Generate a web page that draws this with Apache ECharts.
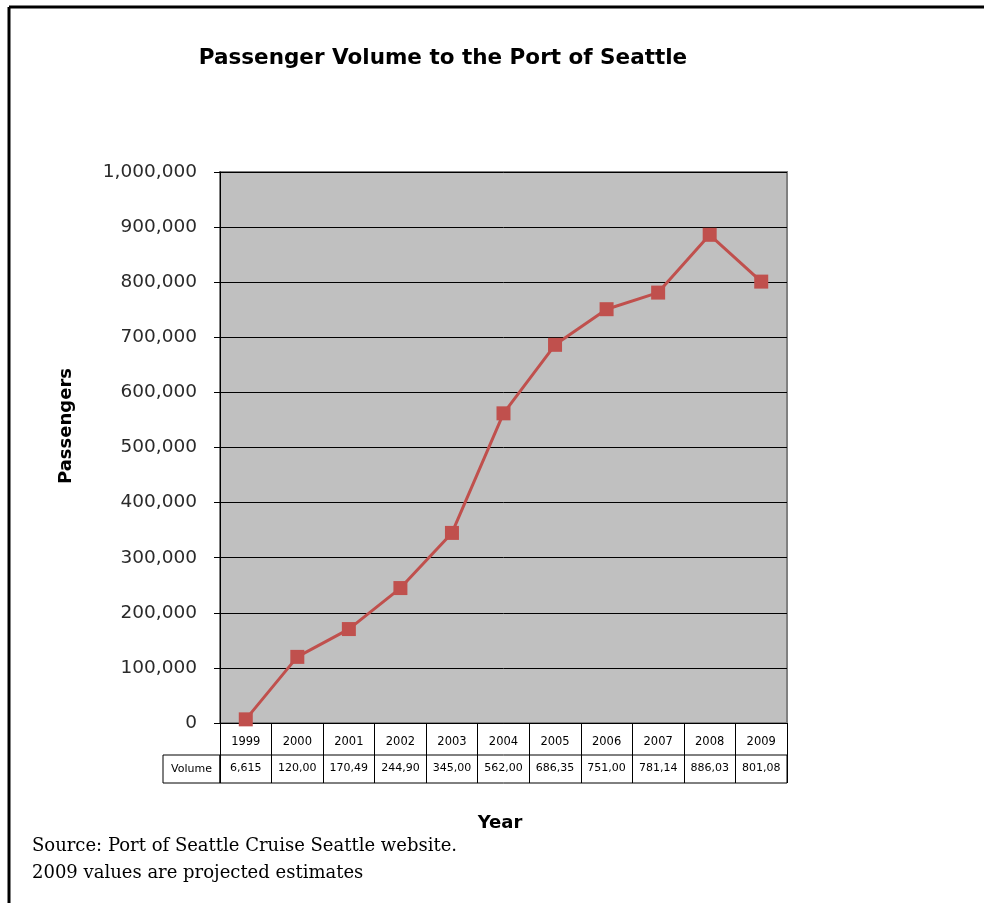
<!DOCTYPE html>
<html>
<head>
<meta charset="utf-8">
<script src="https://cdn.jsdelivr.net/npm/echarts@6/dist/echarts.min.js"></script>
<style>html,body{margin:0;padding:0;background:#fff}#c{width:984px;height:903px}</style>
</head>
<body>
<div id="c"></div>
<script>
var years = ['1999','2000','2001','2002','2003','2004','2005','2006','2007','2008','2009'];
var passengers = [6615, 120000, 170490, 244900, 345000, 562000, 686350, 751000, 781140, 886030, 801080];
var volumeLabels = ['6,615','120,00','170,49','244,90','345,00','562,00','686,35','751,00','781,14','886,03','801,08'];
var yTicks = {min: 0, max: 1000000, interval: 100000};

var chart = echarts.init(document.getElementById('c'), null, {renderer: 'canvas'});
var sans = 'DejaVu Sans';
chart.setOption({
  animation: false,
  backgroundColor: '#fff',
  title: {
    text: 'Passenger Volume to the Port of Seattle',
    left: 438, top: 42, textAlign: 'center',
    textStyle: {fontFamily: sans, fontWeight: 'bold', fontSize: 21.5, color: '#000'}
  },
  grid: [
    {left: 220, right: 197, top: 172, bottom: 180, show: true, backgroundColor: '#C0C0C0', borderColor: '#808080', borderWidth: 2},
    {left: 220, right: 197, top: 755, height: 28, show: true, backgroundColor: 'transparent', borderColor: '#000', borderWidth: 1}
  ],
  xAxis: [
    {
      type: 'category', gridIndex: 0, data: years, boundaryGap: true,
      axisLine: {lineStyle: {color: '#000', width: 1}},
      axisTick: {show: true, interval: 0, length: 32, lineStyle: {color: '#000'}},
      axisLabel: {interval: 0, margin: 13, fontFamily: sans, fontSize: 11.5, color: '#000'},
      splitLine: {show: false}
    },
    {
      type: 'category', gridIndex: 1, data: volumeLabels, boundaryGap: true,
      axisLine: {show: false}, axisTick: {show: false, interval: 0},
      axisLabel: {interval: 0, hideOverlap: false, margin: -20, fontFamily: sans, fontSize: 11, color: '#000'},
      splitLine: {show: true, interval: 0, lineStyle: {color: '#000', width: 1}}
    }
  ],
  yAxis: [
    {
      type: 'value', gridIndex: 0, min: yTicks.min, max: yTicks.max, interval: yTicks.interval,
      axisLine: {show: true, lineStyle: {color: '#000', width: 1}},
      axisTick: {show: true, length: 6, lineStyle: {color: '#000'}},
      axisLabel: {margin: 23, fontFamily: sans, fontSize: 18.5, color: '#2a2a2a',
        formatter: function (v) { return v.toLocaleString('en-US'); }},
      splitLine: {show: true, lineStyle: {color: '#000', width: 1}}
    },
    {
      type: 'value', gridIndex: 1, min: 0, max: 1,
      axisLine: {show: false}, axisTick: {show: false}, axisLabel: {show: false}, splitLine: {show: false}
    }
  ],
  series: [{
    type: 'line', xAxisIndex: 0, yAxisIndex: 0, data: passengers,
    symbol: 'rect', symbolSize: 14,
    lineStyle: {color: '#C0504D', width: 3},
    itemStyle: {color: '#C0504D'},
    emphasis: {disabled: true}
  }],
  graphic: [
    {type: 'line', shape: {x1: 9, y1: 7, x2: 984, y2: 7}, style: {stroke: '#000', lineWidth: 3}},
    {type: 'line', shape: {x1: 9, y1: 7, x2: 9, y2: 903}, style: {stroke: '#000', lineWidth: 3}},
    {type: 'rect', shape: {x: 163, y: 755, width: 57, height: 28}, style: {fill: 'transparent', stroke: '#000', lineWidth: 1}},
    {type: 'text', x: 191.5, y: 769, style: {text: 'Volume', fontFamily: sans, fontSize: 11, fill: '#000', textAlign: 'center', textVerticalAlign: 'middle'}},
    {type: 'text', x: 66, y: 426, rotation: Math.PI / 2, style: {text: 'Passengers', fontFamily: sans, fontWeight: 'bold', fontSize: 18, fill: '#000', textAlign: 'center', textVerticalAlign: 'middle'}},
    {type: 'text', x: 500, y: 823, style: {text: 'Year', fontFamily: sans, fontWeight: 'bold', fontSize: 18, fill: '#000', textAlign: 'center', textVerticalAlign: 'middle'}},
    {type: 'text', x: 32, y: 860, style: {text: 'Source: Port of Seattle Cruise Seattle website.\n2009 values are projected estimates', fontFamily: 'DejaVu Serif', fontSize: 18, lineHeight: 27, fill: '#000', textVerticalAlign: 'middle'}}
  ]
});
</script>
</body>
</html>
